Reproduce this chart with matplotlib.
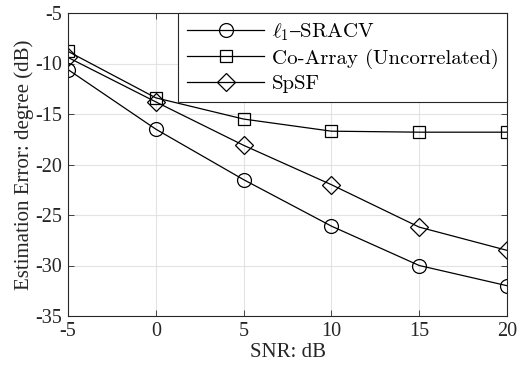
import matplotlib
matplotlib.use("Agg")
import matplotlib.pyplot as plt

plt.rcParams['font.family'] = ['Liberation Serif', 'DejaVu Serif']
plt.rcParams['mathtext.fontset'] = 'cm'
plt.rcParams['axes.unicode_minus'] = False

snr = [-5, 0, 5, 10, 15, 20]
sracv = [-10.6, -16.5, -21.5, -26.1, -30.0, -32.0]
coarray = [-8.8, -13.4, -15.5, -16.7, -16.8, -16.8]
spsf = [-9.4, -13.8, -18.1, -22.0, -26.2, -28.5]

labels = [r'$\ell_1$$\mathrm{–}$SRACV', 'Co-Array (Uncorrelated)', 'SpSF']
markers = ['o', 's', 'D']
sizes = [10, 8.5, 9]
series = [sracv, coarray, spsf]

fig = plt.figure(figsize=(5.32, 3.71), dpi=100)
ax = fig.add_axes([68 / 532, 1 - 316 / 371, (507 - 68) / 532, (316 - 13) / 371])

for vals, lab, mk, ms in zip(series, labels, markers, sizes):
    ax.plot(snr, vals, color='black', lw=0.9, marker=mk, markersize=ms,
            markerfacecolor='none', markeredgecolor='black', markeredgewidth=0.9,
            label=lab)

ax.set_xlim(-5, 20)
ax.set_ylim(-35, -5)
ax.set_xticks(snr)
ax.set_yticks(range(-35, -4, 5))
ax.grid(True, color='#e3e3e3', lw=0.8)
ax.set_axisbelow(True)
ax.tick_params(direction='in', top=True, right=True, labelsize=14.5, colors='#262626',
               length=4, width=0.6, pad=4)
for sp in ax.spines.values():
    sp.set_color('#262626')
    sp.set_linewidth(0.8)

ax.set_xlabel('SNR: dB', fontsize=15, color='#262626', labelpad=2)
ax.set_ylabel('Estimation Error: degree (dB)', fontsize=15, color='#262626', labelpad=1)

leg = ax.legend(loc='upper right', frameon=True, fancybox=False,
                framealpha=1, edgecolor='#262626', handlelength=3.7,
                borderaxespad=0, borderpad=0.42, labelspacing=0.26, handletextpad=0.35,
                prop={'family': ['cmr10', 'DejaVu Serif'], 'size': 15})
leg.get_frame().set_linewidth(0.8)

fig.savefig('out.png', dpi=100)
